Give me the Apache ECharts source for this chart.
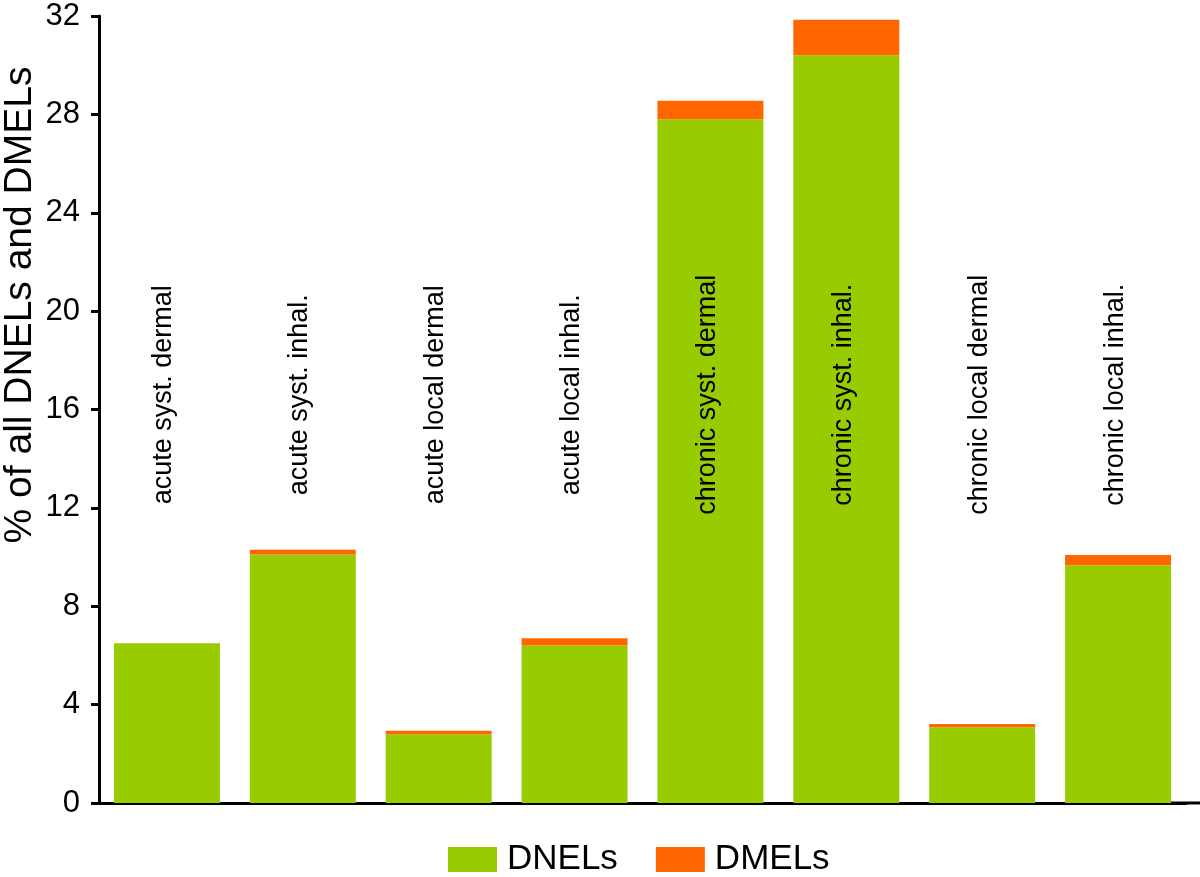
<!DOCTYPE html>
<html>
<head>
<meta charset="utf-8">
<script src="https://cdn.jsdelivr.net/npm/echarts@6/dist/echarts.min.js"></script>
<style>
  html, body { margin: 0; padding: 0; background: #fff; }
  #chart { width: 1200px; height: 877px; }
</style>
</head>
<body>
<div id="chart"></div>
<script>
const categories = [
  'acute syst. dermal', 'acute syst. inhal.', 'acute local dermal', 'acute local inhal.',
  'chronic syst. dermal', 'chronic syst. inhal.', 'chronic local dermal', 'chronic local inhal.'
];
const dnels = [6.5, 10.1, 2.8, 6.4, 27.8, 30.4, 3.08, 9.67];
const dmels = [0, 0.2, 0.14, 0.3, 0.75, 1.45, 0.13, 0.41];
const yTicks = { min: 0, max: 32, interval: 4 };
const yTitle = '% of all DNELs and DMELs';
const labelLevel = 16.6;

const FONT = '"Liberation Sans", Arial, Helvetica, sans-serif';
const chart = echarts.init(document.getElementById('chart'), null, { renderer: 'canvas' });

const option = {
  animation: false,
  backgroundColor: '#ffffff',
  grid: { left: 99, right: 14, top: 16, bottom: 74, containLabel: false },
  legend: {
    top: 837,
    left: 443,
    itemWidth: 49,
    itemHeight: 25,
    itemGap: 38,
    icon: 'rect',
    textStyle: { fontFamily: FONT, fontSize: 35, color: '#000', padding: [0, 0, 0, 5] },
    data: ['DNELs', 'DMELs']
  },
  xAxis: {
    type: 'category',
    data: categories,
    axisLine: { show: true, lineStyle: { color: '#000', width: 3 } },
    axisTick: { show: false },
    axisLabel: { show: false },
    splitLine: { show: false }
  },
  yAxis: {
    type: 'value',
    min: yTicks.min,
    max: yTicks.max,
    interval: yTicks.interval,
    axisLine: { show: true, lineStyle: { color: '#000', width: 3 } },
    axisTick: { show: true, length: 8, lineStyle: { color: '#000', width: 3 } },
    axisLabel: { fontFamily: FONT, fontSize: 31, color: '#000', margin: 19 },
    splitLine: { show: false }
  },
  series: [
    {
      name: 'DNELs', type: 'bar', stack: 'total', data: dnels,
      barCategoryGap: '22%',
      itemStyle: { color: '#99CC00' }
    },
    {
      name: 'DMELs', type: 'bar', stack: 'total', data: dmels,
      barCategoryGap: '22%',
      itemStyle: { color: '#FF6600' }
    },
    {
      name: 'labels', type: 'custom',
      data: categories.map((c, i) => [i, labelLevel]),
      silent: true,
      z: 10,
      renderItem: function (params, api) {
        const p = api.coord([api.value(0), api.value(1)]);
        return {
          type: 'text',
          x: p[0] - 3,
          y: p[1],
          rotation: Math.PI / 2,
          style: {
            text: categories[params.dataIndex],
            fill: '#000',
            font: '27px ' + FONT,
            textAlign: 'center',
            textVerticalAlign: 'middle'
          }
        };
      }
    }
  ]
};
chart.setOption(option);

// y-axis title and extension of the x-axis baseline to the right edge
const base = chart.convertToPixel({ gridIndex: 0 }, [categories.length - 1, 0]);
chart.setOption({
  graphic: [
    {
      type: 'text',
      x: 20,
      y: 305,
      rotation: Math.PI / 2,
      style: {
        text: yTitle,
        fill: '#000',
        font: '39px ' + FONT,
        textAlign: 'center',
        textVerticalAlign: 'middle'
      }
    },
    {
      type: 'line',
      shape: { x1: base[0], y1: base[1], x2: 1200, y2: base[1] },
      style: { stroke: '#000', lineWidth: 3 }
    }
  ]
});
</script>
</body>
</html>
